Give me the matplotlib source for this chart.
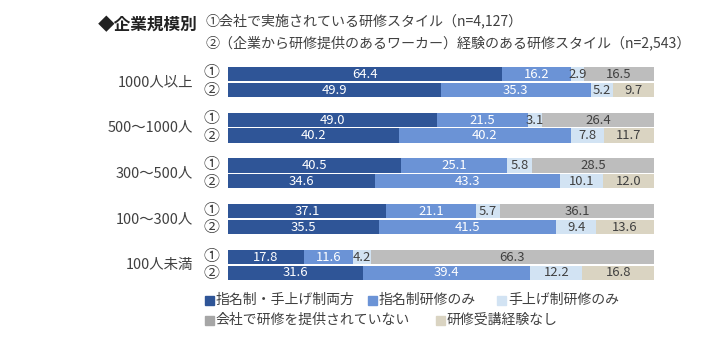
import matplotlib
matplotlib.use("Agg")
import matplotlib.pyplot as plt
from matplotlib.patches import Rectangle
import numpy as np

plt.rcParams['font.family'] = ['Noto Sans CJK JP', 'DejaVu Sans']

categories = ["1000人以上", "500〜1000人", "300〜500人", "100〜300人", "100人未満"]
series_names = ["指名制・手上げ制両方", "指名制研修のみ", "手上げ制研修のみ",
                "会社で研修を提供されていない", "研修受講経験なし"]
# ① company-provided style (4 segments), ② worker experience (5 segments; 4th absent)
s1_both = [64.4, 49.0, 40.5, 37.1, 17.8]
s1_nom = [16.2, 21.5, 25.1, 21.1, 11.6]
s1_hand = [2.9, 3.1, 5.8, 5.7, 4.2]
s1_none = [16.5, 26.4, 28.5, 36.1, 66.3]
s1_noexp = [0, 0, 0, 0, 0]
s2_both = [49.9, 40.2, 34.6, 35.5, 31.6]
s2_nom = [35.3, 40.2, 43.3, 41.5, 39.4]
s2_hand = [5.2, 7.8, 10.1, 9.4, 12.2]
s2_none = [0, 0, 0, 0, 0]
s2_noexp = [9.7, 11.7, 12.0, 13.6, 16.8]

colors = ["#2F5597", "#6B93D6", "#D2E3F3", "#BDBDBD", "#DAD4C2"]
txt_colors = ["white", "white", "#404040", "#404040", "#404040"]

fig = plt.figure(figsize=(7.2, 3.38), dpi=100)
W, H = 720, 338
ax = fig.add_axes([228 / W, (H - 285) / H, (654 - 228) / W, 225 / H])
ax.set_xlim(0, 100)
ax.set_ylim(285, 60)
ax.axis("off")

rows1 = np.array([s1_both, s1_nom, s1_hand, s1_none, s1_noexp]).T
rows2 = np.array([s2_both, s2_nom, s2_hand, s2_none, s2_noexp]).T
bh = 14.2
for i, cat in enumerate(categories):
    y1 = 74 + i * 45.75
    y2 = y1 + 15.7
    for vals, y in ((rows1[i], y1), (rows2[i], y2)):
        left = 0
        for k, v in enumerate(vals):
            if v <= 0:
                continue
            ax.barh(y, v, left=left, height=bh, color=colors[k], edgecolor="none")
            ax.text(left + v / 2, y + 0.3, f"{v:.1f}", ha="center", va="center",
                    fontsize=9.4, color=txt_colors[k])
            left += v
    fig.text(212 / W, 1 - (y1 - 1) / H, "①", ha="center", va="center", fontsize=11.5, color="#404040")
    fig.text(212 / W, 1 - (y2 + 1) / H, "②", ha="center", va="center", fontsize=11.5, color="#404040")
    fig.text(193 / W, 1 - (y1 + 8) / H, cat, ha="right", va="center", fontsize=10.4, color="#404040")

# title
fig.text(98 / W, 1 - 25 / H, "◆企業規模別", ha="left", va="center", fontsize=12,
         fontweight="bold", color="#222222")
fig.text(205 / W, 1 - 21 / H, "①会社で実施されている研修スタイル（n=4,127）", ha="left", va="center",
         fontsize=10.1, color="#404040")
fig.text(205 / W, 1 - 43 / H, "②（企業から研修提供のあるワーカー）経験のある研修スタイル（n=2,543）",
         ha="left", va="center", fontsize=10.1, color="#404040")

# legend
leg_pos = [(205, 300), (368, 300), (497, 300), (205, 320), (436, 320)]
for k, (name, (lx, ly)) in enumerate(zip(series_names, leg_pos)):
    fig.patches.append(Rectangle((lx / W, 1 - (ly + 4.5) / H), 9 / W, 9 / H,
                                 transform=fig.transFigure, color=colors[k] if k != 3 else "#A6A6A6"))
    fig.text((lx + 11) / W, 1 - ly / H, name, ha="left", va="center", fontsize=10, color="#404040")

fig.savefig("out.png", dpi=100)
